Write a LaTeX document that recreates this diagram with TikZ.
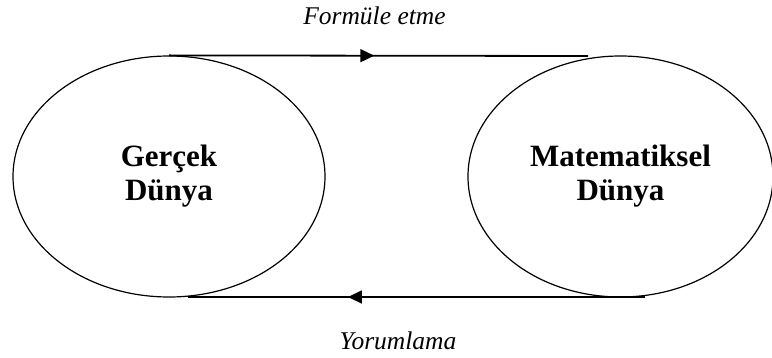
\documentclass[tikz,border=0pt]{standalone}
\usepackage{fontspec}
\setmainfont{Liberation Serif}
\usetikzlibrary{shapes.geometric,arrows.meta,decorations.markings}
\tikzset{
  world/.style={ellipse, draw, line width=1.2pt, inner sep=0pt,
    minimum height=241pt, font=\fontsize{31}{34}\selectfont\bfseries, align=center},
  flow/.style={line width=1.8pt},
  tipmark/.style={postaction={decorate}, decoration={markings,
    mark=at position #1 with {\arrow{Triangle[length=14pt,width=13pt]}}}},
  caption/.style={font=\fontsize{25.5}{28}\selectfont\itshape, inner sep=0pt, anchor=base}
}
\begin{document}
\begin{tikzpicture}[x=1pt,y=-1pt]
  \useasboundingbox (0,0) rectangle (772,358);
  \node[world, minimum width=312pt] (real) at (169,176.5) {Gerçek\\Dünya};
  \node[world, minimum width=305pt] (math) at (620.5,176.5) {Matematiksel\\Dünya};
  \coordinate (topend) at (588,56);
  \coordinate (botstart) at (645,297);
  \coordinate (botend) at (188,297);
  \draw[flow, tipmark=0.49] (real.north) -- (topend);
  \draw[flow, tipmark=0.65] (botstart) -- (botend);
  \node[caption] (form) at (374.5,25) {Formüle etme};
  \node[caption] (yor) at (398,350) {Yorumlama};
\end{tikzpicture}
\end{document}
